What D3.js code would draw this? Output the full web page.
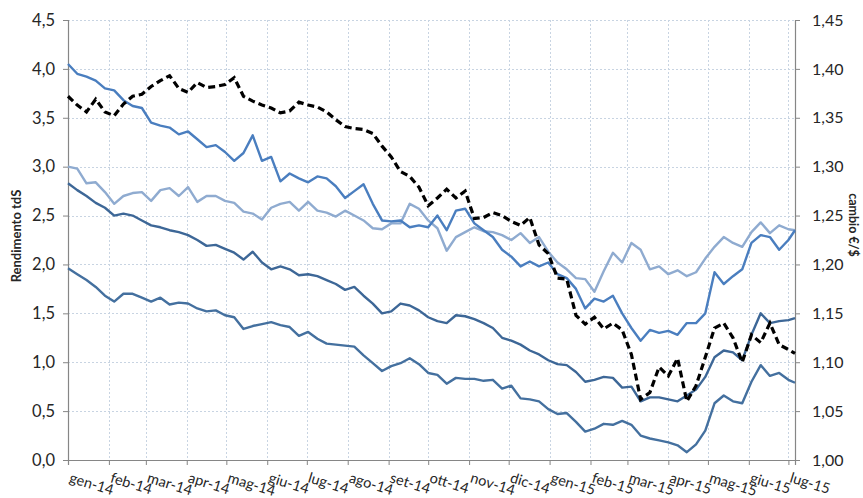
<!DOCTYPE html>
<html>
<head>
<meta charset="utf-8">
<script src="https://cdn.jsdelivr.net/npm/d3@7"></script>
<style>
  body { margin: 0; background: #fff; }
  svg { display: block; }
  text { font-family: Lato, "Open Sans", sans-serif; fill: #262626; }
</style>
</head>
<body>
<svg id="chart" width="863" height="498"></svg>
<script>
// ---- data (weekly observations, first on 2014-01-01, last point 2015-07-06) ----
const monthNames = ["gen","feb","mar","apr","mag","giu","lug","ago","set","ott","nov","dic"];
const leftTicks = [0, 0.5, 1, 1.5, 2, 2.5, 3, 3.5, 4, 4.5];
const rightTicks = [1.00, 1.05, 1.10, 1.15, 1.20, 1.25, 1.30, 1.35, 1.40, 1.45];

const yieldA = [4.05,3.95,3.92,3.88,3.80,3.78,3.68,3.62,3.60,3.45,3.42,3.40,3.33,3.36,3.28,3.20,3.22,3.15,3.06,3.14,
  3.32,3.06,3.10,2.85,2.93,2.88,2.84,2.90,2.88,2.80,2.68,2.75,2.82,2.62,2.45,2.44,2.45,2.38,2.40,2.38,
  2.50,2.35,2.55,2.57,2.42,2.35,2.28,2.15,2.08,1.98,2.03,1.98,2.02,1.90,1.86,1.75,1.55,1.65,1.62,1.68,
  1.50,1.35,1.22,1.33,1.30,1.32,1.28,1.40,1.40,1.50,1.92,1.80,1.88,1.95,2.22,2.30,2.28,2.15,2.25,2.35];
const yieldB = [3.00,2.98,2.83,2.84,2.74,2.62,2.70,2.73,2.74,2.65,2.76,2.78,2.70,2.79,2.64,2.70,2.70,2.65,2.63,2.54,
  2.52,2.46,2.58,2.62,2.64,2.55,2.64,2.55,2.53,2.49,2.55,2.50,2.45,2.37,2.36,2.42,2.42,2.62,2.57,2.45,
  2.37,2.14,2.28,2.33,2.38,2.34,2.33,2.30,2.25,2.32,2.22,2.28,2.13,2.02,1.95,1.86,1.85,1.72,1.93,2.12,
  2.02,2.22,2.15,1.95,1.98,1.90,1.94,1.88,1.92,2.06,2.18,2.28,2.22,2.18,2.33,2.43,2.32,2.40,2.36,2.35];
const yieldC = [2.83,2.76,2.70,2.63,2.58,2.50,2.52,2.50,2.45,2.40,2.38,2.35,2.33,2.30,2.25,2.19,2.20,2.16,2.12,2.05,
  2.13,2.02,1.95,1.98,1.95,1.89,1.90,1.88,1.84,1.80,1.74,1.77,1.68,1.60,1.50,1.52,1.60,1.58,1.53,1.46,
  1.42,1.40,1.48,1.47,1.44,1.40,1.35,1.25,1.22,1.18,1.12,1.08,1.02,0.98,0.97,0.90,0.80,0.82,0.85,0.84,
  0.74,0.75,0.60,0.64,0.64,0.62,0.60,0.66,0.72,0.85,1.05,1.12,1.10,1.02,1.28,1.50,1.40,1.42,1.43,1.45];
const yieldD = [1.96,1.90,1.84,1.77,1.68,1.62,1.70,1.70,1.66,1.62,1.66,1.59,1.61,1.60,1.55,1.52,1.53,1.48,1.46,1.34,
  1.37,1.39,1.41,1.38,1.36,1.27,1.31,1.24,1.19,1.18,1.17,1.16,1.07,0.99,0.91,0.96,0.99,1.04,0.98,0.89,
  0.87,0.78,0.84,0.83,0.83,0.81,0.82,0.73,0.76,0.63,0.62,0.60,0.52,0.47,0.48,0.39,0.29,0.32,0.37,0.36,
  0.40,0.36,0.25,0.22,0.20,0.18,0.15,0.08,0.16,0.30,0.58,0.66,0.60,0.58,0.80,0.97,0.86,0.89,0.82,0.79];
const eurUsd = [1.372,1.363,1.356,1.369,1.356,1.352,1.364,1.372,1.374,1.382,1.388,1.393,1.380,1.376,1.386,1.381,1.382,1.384,1.391,1.372,
  1.367,1.363,1.360,1.355,1.357,1.366,1.363,1.361,1.356,1.348,1.341,1.339,1.338,1.334,1.321,1.310,1.295,1.290,1.279,1.260,
  1.268,1.277,1.268,1.275,1.247,1.248,1.253,1.250,1.244,1.240,1.248,1.220,1.211,1.186,1.185,1.148,1.139,1.146,1.134,1.140,
  1.133,1.108,1.062,1.069,1.095,1.086,1.104,1.060,1.076,1.105,1.135,1.140,1.125,1.100,1.128,1.120,1.140,1.118,1.113,1.109];

// observation dates: weekly from 2014-01-01, final point 2015-07-06
const dates = d3.timeDay.range(new Date(2014, 0, 1), new Date(2015, 6, 2), 7);
dates.push(new Date(2015, 6, 6));

// ---- layout ----
const L = 68, R = 795, T = 20, B = 460;
const svg = d3.select("#chart");

const x = d3.scaleTime().domain([new Date(2014, 0, 1), new Date(2015, 6, 6)]).range([L, R]);
const yL = d3.scaleLinear().domain([0, 4.5]).range([B, T]);
const yR = d3.scaleLinear().domain([1.0, 1.45]).range([B, T]);

const monthTicks = d3.timeMonth.range(new Date(2014, 0, 1), new Date(2015, 6, 2));
const fmtMonth = d => monthNames[d.getMonth()] + "-" + String(d.getFullYear()).slice(2);
const comma = s => s.replace(".", ",");

// gridlines
const grid = svg.append("g").attr("stroke", "#c8d4e2").attr("stroke-width", 1).attr("stroke-dasharray", "2,2");
grid.selectAll("line.h").data(leftTicks.filter(v => v > 0)).join("line")
  .attr("x1", L).attr("x2", R).attr("y1", d => Math.round(yL(d)) + 0.5).attr("y2", d => Math.round(yL(d)) + 0.5);
grid.selectAll("line.v").data(monthTicks.slice(1)).join("line")
  .attr("x1", d => Math.round(x(d)) + 0.5).attr("x2", d => Math.round(x(d)) + 0.5).attr("y1", T).attr("y2", B);

// axes
const axisColor = "#868686";
const gL = svg.append("g").attr("transform", `translate(${L},0)`)
  .call(d3.axisLeft(yL).tickValues(leftTicks).tickSize(5).tickPadding(8).tickFormat(d => comma(d3.format(".1f")(d))));
const gR = svg.append("g").attr("transform", `translate(${R},0)`)
  .call(d3.axisRight(yR).tickValues(rightTicks).tickSize(5).tickPadding(12).tickFormat(d => comma(d3.format(".2f")(d))));
const gB = svg.append("g").attr("transform", `translate(0,${B})`)
  .call(d3.axisBottom(x).tickValues(monthTicks).tickSize(5).tickFormat(fmtMonth));

[gL, gR, gB].forEach(g => {
  g.select(".domain").attr("stroke", axisColor).attr("stroke-width", 1.2);
  g.selectAll(".tick line").attr("stroke", axisColor);
  g.selectAll("text").style("font-family", "Lato, sans-serif").attr("fill", "#262626");
});
gL.selectAll("text").style("font-size", "16.5px");
gR.selectAll("text").style("font-size", "16px");
gB.selectAll("text").style("font-size", "14.5px")
  .attr("text-anchor", "start")
  .attr("dy", null)
  .attr("y", 0)
  .attr("x", 0)
  .attr("transform", "translate(0,22) rotate(17)");

// lines
const series = [
  { values: yieldB, color: "#8fabd0", scale: yL },
  { values: yieldD, color: "#44709f", scale: yL },
  { values: yieldC, color: "#3d6797", scale: yL },
  { values: yieldA, color: "#4a7ebf", scale: yL },
];
series.forEach(s => {
  svg.append("path")
    .datum(s.values.map((v, i) => [dates[i], v]))
    .attr("fill", "none").attr("stroke", s.color).attr("stroke-width", 2.4)
    .attr("stroke-linejoin", "round")
    .attr("d", d3.line().x(d => x(d[0])).y(d => s.scale(d[1])));
});
svg.append("path")
  .datum(eurUsd.map((v, i) => [dates[i], v]))
  .attr("fill", "none").attr("stroke", "#000").attr("stroke-width", 3.2)
  .attr("stroke-dasharray", "7,4")
  .attr("d", d3.line().x(d => x(d[0])).y(d => yR(d[1])));

// axis titles
svg.append("text").attr("transform", "translate(21,236) rotate(-90)")
  .attr("text-anchor", "middle").style("font-size", "13px").style("font-weight", "bold")
  .text("Rendimento tdS");
svg.append("text").attr("transform", "translate(849,225) rotate(90)")
  .attr("text-anchor", "middle").style("font-size", "12.5px").style("font-weight", "bold")
  .text("cambio €/$");
</script>
</body>
</html>
